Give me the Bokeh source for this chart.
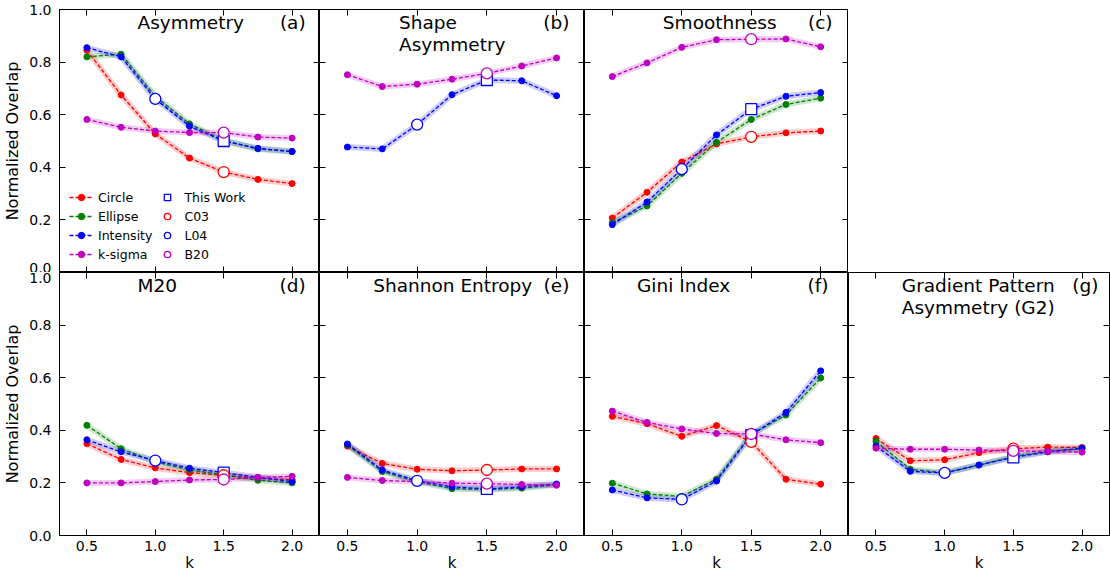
from bokeh.plotting import figure
from bokeh.models import (FixedTicker, PrintfTickFormatter, LinearAxis, Label,
                          Legend, LegendItem, Spacer, Range1d)
from bokeh.layouts import column, row
from bokeh.embed import file_html
from bokeh.resources import INLINE

k = [0.5, 0.75, 1.0, 1.25, 1.5, 1.75, 2.0]
x_ticks = [0.5, 1.0, 1.5, 2.0]
y_ticks = [0.0, 0.2, 0.4, 0.6, 0.8, 1.0]

# (a) Asymmetry
asym_circle = [0.845, 0.675, 0.527, 0.435, 0.382, 0.354, 0.338]
asym_ellipse = [0.820, 0.830, 0.670, 0.565, 0.502, 0.470, 0.460]
asym_intensity = [0.855, 0.820, 0.660, 0.556, 0.500, 0.472, 0.460]
asym_ksigma = [0.582, 0.552, 0.538, 0.532, 0.532, 0.515, 0.511]
# (b) Shape Asymmetry
shape_intensity = [0.477, 0.470, 0.562, 0.676, 0.732, 0.729, 0.672]
shape_ksigma = [0.752, 0.707, 0.716, 0.735, 0.757, 0.785, 0.816]
# (c) Smoothness
smooth_circle = [0.207, 0.305, 0.420, 0.489, 0.516, 0.531, 0.538]
smooth_ellipse = [0.189, 0.253, 0.377, 0.495, 0.582, 0.639, 0.663]
smooth_intensity = [0.182, 0.268, 0.393, 0.523, 0.621, 0.670, 0.684]
smooth_ksigma = [0.745, 0.797, 0.856, 0.885, 0.887, 0.888, 0.858]
# (d) M20
m20_circle = [0.349, 0.289, 0.257, 0.239, 0.229, 0.218, 0.212]
m20_ellipse = [0.419, 0.330, 0.280, 0.250, 0.230, 0.210, 0.200]
m20_intensity = [0.364, 0.318, 0.285, 0.256, 0.239, 0.221, 0.205]
m20_ksigma = [0.200, 0.200, 0.205, 0.211, 0.213, 0.221, 0.225]
# (e) Shannon Entropy
se_circle = [0.340, 0.274, 0.252, 0.246, 0.249, 0.253, 0.253]
se_ellipse = [0.345, 0.243, 0.205, 0.178, 0.175, 0.180, 0.193]
se_intensity = [0.348, 0.249, 0.208, 0.185, 0.177, 0.185, 0.196]
se_ksigma = [0.221, 0.209, 0.205, 0.199, 0.197, 0.194, 0.191]
# (f) Gini Index
gini_circle = [0.453, 0.425, 0.377, 0.418, 0.356, 0.214, 0.195]
gini_ellipse = [0.199, 0.158, 0.149, 0.214, 0.385, 0.458, 0.599]
gini_intensity = [0.173, 0.143, 0.137, 0.207, 0.382, 0.468, 0.626]
gini_ksigma = [0.473, 0.430, 0.405, 0.388, 0.386, 0.364, 0.353]
# (g) Gradient Pattern Asymmetry (G2)
g2_circle = [0.369, 0.284, 0.288, 0.315, 0.330, 0.336, 0.335]
g2_ellipse = [0.358, 0.252, 0.238, 0.268, 0.300, 0.320, 0.330]
g2_intensity = [0.340, 0.244, 0.238, 0.268, 0.297, 0.318, 0.332]
g2_ksigma = [0.332, 0.328, 0.328, 0.325, 0.322, 0.319, 0.317]

series_names = ["Circle", "Ellipse", "Intensity", "k-sigma"]
colors = {"Circle": "#ff0000", "Ellipse": "#008000", "Intensity": "#0000ff", "k-sigma": "#bf00bf"}

FONT = "DejaVu Sans"
XR = (0.3, 2.2)


def style_axis(ax, ticks, show, fmt="%.1f"):
    ax.ticker = FixedTicker(ticks=ticks)
    ax.formatter = PrintfTickFormatter(format=fmt)
    ax.major_tick_in = 6
    ax.major_tick_out = 0
    ax.minor_tick_line_color = None
    ax.axis_line_color = "black"
    ax.major_tick_line_color = "black"
    ax.major_label_text_font = FONT
    ax.axis_label_text_font = FONT
    ax.axis_label_text_font_style = "normal"
    ax.axis_label_text_font_size = "16px"
    ax.axis_label_text_color = "black"
    if show:
        ax.major_label_text_font_size = "14px"
        ax.major_label_text_color = "black"
    else:
        ax.major_label_text_font_size = "0px"
        ax.major_label_text_color = None
        ax.major_label_standoff = 0


def make_panel(width, height, borders, data, title_lines, title_x, tag, tag_x,
               left_labels, bottom_labels, legend=False):
    bl, br, bt, bb = borders
    p = figure(width=width, height=height, x_range=Range1d(*XR), y_range=Range1d(0, 1),
               output_backend="svg", toolbar_location=None,
               min_border_left=bl, min_border_right=br, min_border_top=bt, min_border_bottom=bb)
    p.xgrid.visible = False
    p.ygrid.visible = False
    p.outline_line_color = "black"
    p.outline_line_width = 1
    p.background_fill_color = "white"
    p.border_fill_color = "white"

    style_axis(p.yaxis[0], y_ticks, left_labels)
    style_axis(p.xaxis[0], x_ticks, bottom_labels)
    if left_labels:
        p.yaxis[0].axis_label = "Normalized Overlap"
        p.yaxis[0].major_label_standoff = 8
        p.yaxis[0].axis_label_standoff = 4
    if bottom_labels:
        p.xaxis[0].axis_label = "k"
        p.xaxis[0].axis_label_text_font_size = "15px"
        p.xaxis[0].major_label_standoff = 5
        p.xaxis[0].axis_label_standoff = 0
    ra = LinearAxis()
    style_axis(ra, y_ticks, False)
    p.add_layout(ra, "right")
    ta = LinearAxis()
    style_axis(ta, x_ticks, False)
    p.add_layout(ta, "above")

    items = []
    for name in series_names:
        if name not in data:
            continue
        vals = data[name]
        c = colors[name]
        p.line(k, vals, line_color=c, line_width=6, line_alpha=0.2)
        ln = p.line(k, vals, line_color=c, line_width=1.3, line_dash="4 2")
        dt = p.scatter(k, vals, size=6, marker="circle", fill_color=c, line_color=c)
        items.append(LegendItem(label=name, renderers=[ln, dt]))

    mk = []
    if "Intensity" in data:
        sq = p.scatter([k[4]], [data["Intensity"][4]], marker="square", size=11,
                       fill_color="white", line_color=colors["Intensity"], line_width=1.3)
        mk.append(("This Work", sq))
    if "Circle" in data:
        c03 = p.scatter([k[4]], [data["Circle"][4]], marker="circle", size=11,
                        fill_color="white", line_color=colors["Circle"], line_width=1.3)
        mk.append(("C03", c03))
    if "Intensity" in data:
        l04 = p.scatter([k[2]], [data["Intensity"][2]], marker="circle", size=11,
                        fill_color="white", line_color=colors["Intensity"], line_width=1.3)
        mk.append(("L04", l04))
    if "k-sigma" in data:
        b20 = p.scatter([k[4]], [data["k-sigma"][4]], marker="circle", size=11,
                        fill_color="white", line_color=colors["k-sigma"], line_width=1.3)
        mk.append(("B20", b20))

    ty = [0.991, 0.907]
    for i, t in enumerate(title_lines):
        p.add_layout(Label(x=title_x, y=ty[i], text=t, text_font=FONT, text_font_size="18.5px",
                           text_baseline="top", text_align="left", text_color="black"))
    p.add_layout(Label(x=tag_x, y=ty[0], text=tag, text_font=FONT, text_font_size="18.5px",
                       text_baseline="top", text_align="right", text_color="black"))

    if legend:
        for lab, r in mk:
            items.append(LegendItem(label=lab, renderers=[r]))
        lg = Legend(items=items, location="bottom_left", orientation="vertical", nrows=4,
                    label_text_font=FONT, label_text_font_size="12.5px", label_text_color="black",
                    glyph_width=24, glyph_height=16, label_height=16, label_standoff=5,
                    spacing=3, padding=5, margin=10, background_fill_alpha=0,
                    border_line_color=None)
        p.add_layout(lg)
    return p


A = make_panel(319, 272, (55, 0, 9, 0),
               {"Circle": asym_circle, "Ellipse": asym_ellipse, "Intensity": asym_intensity, "k-sigma": asym_ksigma},
               ["Asymmetry"], 0.870, "(a)", 2.099, True, False, legend=True)
B = make_panel(265, 272, (0, 0, 9, 0),
               {"Intensity": shape_intensity, "k-sigma": shape_ksigma},
               ["Shape", "Asymmetry"], 0.870, "(b)", 2.092, False, False)
C = make_panel(264, 272, (0, 0, 9, 0),
               {"Circle": smooth_circle, "Ellipse": smooth_ellipse, "Intensity": smooth_intensity, "k-sigma": smooth_ksigma},
               ["Smoothness"], 0.864, "(c)", 2.085, False, False)
D = make_panel(319, 302, (55, 0, 0, 39),
               {"Circle": m20_circle, "Ellipse": m20_ellipse, "Intensity": m20_intensity, "k-sigma": m20_ksigma},
               ["M20"], 0.870, "(d)", 2.099, True, True)
E = make_panel(265, 302, (0, 0, 0, 39),
               {"Circle": se_circle, "Ellipse": se_ellipse, "Intensity": se_intensity, "k-sigma": se_ksigma},
               ["Shannon Entropy"], 0.685, "(e)", 2.092, False, True)
F = make_panel(264, 302, (0, 0, 0, 39),
               {"Circle": gini_circle, "Ellipse": gini_ellipse, "Intensity": gini_intensity, "k-sigma": gini_ksigma},
               ["Gini Index"], 0.678, "(f)", 2.056, False, True)
G = make_panel(262, 302, (0, 1, 0, 39),
               {"Circle": g2_circle, "Ellipse": g2_ellipse, "Intensity": g2_intensity, "k-sigma": g2_ksigma},
               ["Gradient Pattern", "Asymmetry (G2)"], 0.688, "(g)", 2.12, False, True)

layout = column(row(A, B, C, Spacer(width=262, height=272)), row(D, E, F, G))

open("out.html", "w").write(file_html(layout, INLINE))
